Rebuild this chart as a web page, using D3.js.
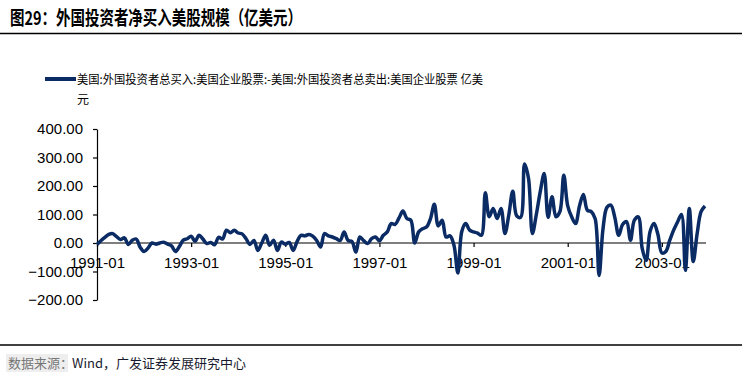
<!DOCTYPE html>
<html lang="zh">
<head>
<meta charset="UTF-8">
<title>外国投资者净买入美股规模</title>
<script src="https://d3js.org/d3.v7.min.js"></script>
<style>
  body { margin: 0; background: #fff; }
  svg { display: block; }
  .axis text { font-family: "Liberation Sans", Arial, sans-serif; font-size: 15px; fill: #000; }
  .axis path, .axis line { stroke: #000; stroke-width: 1.2; }
</style>
</head>
<body>
<div id="chart"></div>
<script>
// monthly net purchases, 1991-01 .. 2003-12 (100 million USD)
const netBuy = [
  -5, 8, 20, 30, 33, 22, 12, 18, -5, 10, 14, -15,
  -30, -18, 0, -4, 0, 3, -4, -10, -30, -12, 10, 15,
  24, 6, 27, 14, -2, 2, -6, 20, 14, 45, 36, 45,
  35, 32, 15, -5, 9, -26, 0, 27, -8, 10, -26, 3,
  -4, 2, -26, 5, 27, 25, 30, 24, 9, -14, 33, 25,
  21, 15, 9, 39, 9, 5, -32, 21, 8, -2, 15, 21,
  8, 27, 39, 68, 65, 88, 112, 86, 80, 0, 39, 50,
  56, 85, 136, 60, 80, 21, 25, -8, -105, 40, 68, 45,
  39, 35, 27, 176, 92, 121, 86, 121, 33, 100, 182, 95,
  90, 277, 227, 33, 100, 180, 244, 90, 162, 92, 110, 238,
  130, 92, 68, 130, 170, 115, 110, 85, -114, 50, 125, 133,
  90, 27, 65, 75, 10, 80, 92, -20, -61, 40, 68, 30,
  -35, -30, 9, 45, 74, 100, -96, 121, -65, 33, 110, 130
];
const months = d3.timeMonth.range(new Date(1991, 0, 1), new Date(2004, 0, 1)).map(d3.timeFormat("%Y-%m"));
const xTickLabels = ["1991-01", "1993-01", "1995-01", "1997-01", "1999-01", "2001-01", "2003-01"];
const yTicks = [-200, -100, 0, 100, 200, 300, 400];

const title = "图29：外国投资者净买入美股规模（亿美元）";
const legendLine1 = "美国:外国投资者总买入:美国企业股票:-美国:外国投资者总卖出:美国企业股票 亿美";
const legendLine2 = "元";
const source = "Wind，广发证券发展研究中心";

const width = 742, height = 377;
const navy = "#0b2b64";

const svg = d3.select("#chart").append("svg")
  .attr("width", width)
  .attr("height", height);

// header
svg.append("text")
  .attr("x", 10).attr("y", 25)
  .attr("font-family", "'Noto Sans CJK SC', sans-serif")
  .attr("font-weight", "bold")
  .attr("font-size", 19)
  .attr("textLength", 292)
  .attr("lengthAdjust", "spacingAndGlyphs")
  .attr("fill", "#000")
  .text(title);

svg.append("line")
  .attr("x1", 0).attr("x2", width)
  .attr("y1", 33.5).attr("y2", 33.5)
  .attr("stroke", "#000").attr("stroke-width", 1.5);

// legend
svg.append("line")
  .attr("x1", 45).attr("x2", 76)
  .attr("y1", 79).attr("y2", 79)
  .attr("stroke", navy).attr("stroke-width", 4);

const legendText = svg.append("g")
  .attr("font-family", "'Noto Sans CJK SC', sans-serif")
  .attr("font-size", 12)
  .attr("fill", "#000");
legendText.append("text")
  .attr("x", 77).attr("y", 83.5)
  .attr("textLength", 406)
  .attr("lengthAdjust", "spacingAndGlyphs")
  .text(legendLine1);
legendText.append("text")
  .attr("x", 77).attr("y", 104)
  .text(legendLine2);

// scales
const x = d3.scaleLinear().domain([0, months.length - 1]).range([97, 705]);
const y = d3.scaleLinear().domain([-200, 400]).range([300, 129]);

// y axis
svg.append("g")
  .attr("class", "axis")
  .attr("transform", "translate(97,0)")
  .call(d3.axisLeft(y).tickValues(yTicks).tickFormat(d3.format(".2f")).tickSize(4).tickSizeOuter(0).tickPadding(10));

// x axis on zero line
const tickIdx = xTickLabels.map(l => months.indexOf(l));
svg.append("g")
  .attr("class", "axis")
  .attr("transform", `translate(0,${y(0)})`)
  .call(d3.axisBottom(x).tickValues(tickIdx).tickFormat(i => months[i]).tickSize(4).tickSizeOuter(0).tickPadding(10))
  .call(g => g.select(".domain").attr("d", `M97,0H706`));

// series
const line = d3.line()
  .x((d, i) => x(i))
  .y(d => y(d))
  .curve(d3.curveCatmullRom.alpha(0.5));

svg.append("path")
  .datum(netBuy)
  .attr("fill", "none")
  .attr("stroke", navy)
  .attr("stroke-width", 3.5)
  .attr("stroke-linejoin", "round")
  .attr("d", line);

// footer
svg.append("line")
  .attr("x1", 0).attr("x2", width)
  .attr("y1", 345).attr("y2", 345)
  .attr("stroke", "#000").attr("stroke-width", 1.5);

svg.append("rect")
  .attr("x", 6).attr("y", 354).attr("width", 62).attr("height", 18)
  .attr("fill", "#eeeeee");
svg.append("text")
  .attr("x", 8).attr("y", 368)
  .attr("font-family", "'Noto Sans CJK SC', sans-serif")
  .attr("font-size", 13)
  .attr("fill", "#777")
  .text("数据来源：");
svg.append("text")
  .attr("x", 72).attr("y", 368)
  .attr("font-family", "'Noto Sans CJK SC', sans-serif")
  .attr("font-size", 13)
  .attr("fill", "#1a1a2e")
  .text(source);
</script>
</body>
</html>
